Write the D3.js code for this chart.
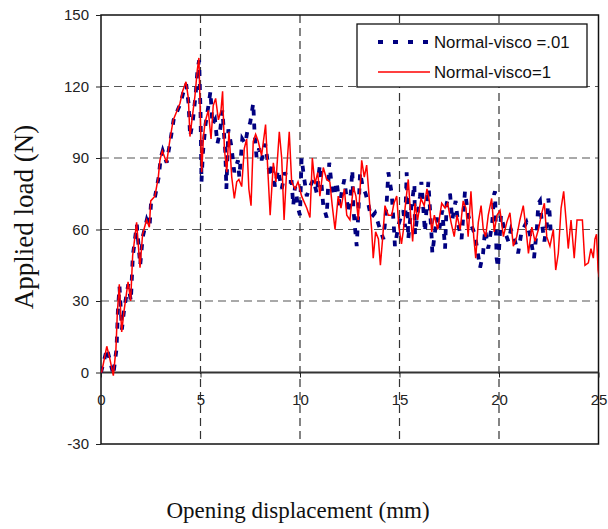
<!DOCTYPE html>
<html>
<head>
<meta charset="utf-8">
<script src="https://cdn.jsdelivr.net/npm/d3@7"></script>
<style>
  body { margin: 0; background: #fff; }
  svg { display: block; }
</style>
</head>
<body>
<script>
// values
var xTicks = [0, 5, 10, 15, 20, 25];
var yTicks = [-30, 0, 30, 60, 90, 120, 150];
var seriesNames = ["Normal-visco =.01", "Normal-visco=1"];

var xBlue = [0, 0.3, 0.45, 0.62, 0.78, 0.85, 0.93, 1.05, 1.17, 1.37, 1.5, 1.6, 1.8, 1.97, 2.1, 2.3, 2.44, 2.52, 2.72, 2.9,
  3.0, 3.1, 3.3, 3.5, 3.65, 3.85, 4.0, 4.12, 4.28, 4.4, 4.48, 4.62, 4.75, 4.85, 4.93, 5.0, 5.05, 5.12, 5.25, 5.4,
  5.5, 5.6, 5.73, 5.85, 5.98, 6.1, 6.25, 6.3, 6.4, 6.55, 6.7, 6.88, 6.95, 7.1, 7.25, 7.35, 7.5, 7.65, 7.72, 7.82,
  7.95, 8.07, 8.25, 8.49, 8.6, 8.74, 8.9, 9.08, 9.25, 9.4, 9.58, 9.66, 9.75, 9.83, 9.9, 10.0, 10.08, 10.2, 10.34, 10.5,
  10.67, 10.85, 10.95, 11.0, 11.17, 11.34, 11.47, 11.56, 11.7, 11.84, 12.0, 12.1, 12.23, 12.43, 12.55, 12.63, 12.68, 12.76, 12.85, 12.95,
  13.02, 13.15, 13.3, 13.45, 13.57, 13.77, 13.95, 14.19, 14.3, 14.36, 14.44, 14.61, 14.74, 14.77, 14.95, 15.1, 15.19, 15.28, 15.36, 15.44,
  15.6, 15.75, 15.78, 15.9, 16.03, 16.1, 16.28, 16.45, 16.55, 16.62, 16.65, 16.87, 17.0, 17.15, 17.29, 17.37, 17.54, 17.65, 17.82, 17.95,
  18.12, 18.29, 18.45, 18.6, 18.79, 18.9, 19.05, 19.2, 19.3, 19.46, 19.66, 19.76, 19.8, 19.88, 19.95, 20.1, 20.3, 20.47, 20.6, 20.75,
  20.96, 21.13, 21.38, 21.55, 21.76, 21.9, 21.98, 22.06, 22.15, 22.28, 22.4, 22.48, 22.55, 22.6];
var yBlue = [0, 10, 5, -1, 10, 26, 36, 18, 27, 37, 30, 49, 62, 45, 57, 64, 61, 72, 74, 82,
  90, 93, 88, 98, 106, 110, 113, 117, 121, 113, 99, 106, 116, 127, 131, 110, 80, 92, 104, 112,
  118, 104, 106, 96, 101, 110, 92, 77, 102, 95, 84, 89, 82, 98, 96, 101, 105, 113, 100, 90,
  94, 89, 96, 82, 88, 78, 85, 77, 84, 80, 80, 70, 78, 74, 69, 66, 90, 82, 74, 78,
  81, 75, 84, 87, 70, 65, 88, 81, 74, 80, 70, 76, 81, 67, 75, 85, 69, 61, 53, 70,
  84, 78, 75, 70, 65, 67, 62, 56, 65, 72, 84, 75, 58, 53, 62, 66, 68, 61, 84, 56,
  70, 79, 58, 66, 74, 80, 59, 80, 66, 56, 50, 65, 60, 68, 52, 71, 75, 64, 72, 62,
  56, 76, 66, 62, 58, 52, 44, 50, 60, 52, 63, 75, 76, 48, 44, 66, 59, 55, 60, 57,
  50, 59, 63, 58, 48, 60, 71, 72, 63, 55, 62, 73, 66, 59];

var xRed = [0.03, 0.29, 0.45, 0.62, 0.75, 0.82, 0.92, 1.04, 1.16, 1.36, 1.49, 1.59, 1.79, 1.96, 2.09, 2.29, 2.43, 2.5, 2.71, 2.88,
  2.96, 3.08, 3.3, 3.47, 3.63, 3.83, 3.97, 4.1, 4.27, 4.39, 4.47, 4.6, 4.72, 4.84, 4.92, 4.97, 5.06, 5.15, 5.23, 5.39,
  5.53, 5.64, 5.76, 5.9, 6.03, 6.11, 6.2, 6.32, 6.43, 6.57, 6.7, 6.82, 6.93, 7.07, 7.2, 7.32, 7.43, 7.54, 7.65, 7.77,
  7.9, 8.07, 8.27, 8.4, 8.5, 8.66, 8.79, 8.96, 9.08, 9.2, 9.33, 9.46, 9.58, 9.75, 9.9, 10.08, 10.34, 10.5, 10.62, 10.75,
  10.89, 11.0, 11.17, 11.34, 11.5, 11.62, 11.76, 11.92, 12.06, 12.23, 12.35, 12.51, 12.68, 12.81, 12.93, 13.1, 13.23, 13.35, 13.47, 13.6,
  13.68, 13.8, 13.94, 14.04, 14.16, 14.27, 14.44, 14.61, 14.72, 14.86, 14.97, 15.1, 15.2, 15.28, 15.44, 15.56, 15.66, 15.78, 15.91, 16.08,
  16.24, 16.38, 16.5, 16.62, 16.75, 16.92, 17.12, 17.29, 17.42, 17.59, 17.75, 17.89, 18.05, 18.2, 18.34, 18.45, 18.59, 18.73, 18.83, 18.96,
  19.1, 19.21, 19.33, 19.46, 19.63, 19.76, 19.9, 20.05, 20.22, 20.39, 20.55, 20.72, 20.89, 21.05, 21.22, 21.36, 21.48, 21.65, 21.81, 21.98,
  22.15, 22.28, 22.4, 22.56, 22.73, 22.85, 22.98, 23.12, 23.25, 23.37, 23.48, 23.62, 23.78, 23.92, 24.07, 24.19, 24.32, 24.49, 24.62, 24.74,
  24.82, 24.9, 24.98, 25.03];
var yRed = [0, 11, 5.5, -1.3, 9.6, 25, 37, 17, 26, 38, 30, 49, 63, 44, 58, 64, 61, 72, 74, 82,
  89, 93, 88, 98, 106, 110, 113, 118, 122, 115, 99, 108, 116, 127, 132, 115, 84, 99, 105, 110,
  98, 112, 115, 106, 110, 118, 94, 84, 101, 82, 73, 80, 81, 78, 94, 98, 77, 70, 97, 100,
  97, 91, 104, 82, 66, 88, 80, 101, 90, 64, 85, 101, 80, 77, 80, 74, 69, 65, 90, 79,
  84, 74, 86, 81, 80, 70, 60, 74, 69, 77, 66, 64, 78, 74, 64, 89, 82, 87, 74, 60,
  48, 59, 56, 45, 57, 70, 66, 66, 71, 74, 61, 54, 60, 69, 81, 66, 55, 71, 64, 73,
  70, 77, 72, 59, 66, 60, 71, 69, 71, 63, 57, 66, 60, 72, 69, 57, 76, 57, 48, 63,
  70, 60, 57, 66, 73, 59, 66, 68, 57, 63, 67, 53, 57, 64, 70, 60, 50, 61, 55, 60,
  67, 71, 57, 53, 60, 43, 50, 69, 76, 64, 52, 64, 48, 64, 64, 64, 45, 46, 52, 48,
  56, 58, 43, 40];

var blue = xBlue.map(function(d, i) { return {x: d, y: yBlue[i]}; });
var red = xRed.map(function(d, i) { return {x: d, y: yRed[i]}; });

var svg = d3.select("body").append("svg")
    .attr("width", 608)
    .attr("height", 529);

var x = d3.scaleLinear().domain([0, 25]).range([101, 598.5]);
var y = d3.scaleLinear().domain([-30, 150]).range([444, 15]);

svg.append("defs").append("clipPath")
    .attr("id", "plotclip")
  .append("rect")
    .attr("x", 101).attr("y", 15)
    .attr("width", 497.5).attr("height", 429);

// grid
svg.append("g").selectAll("line")
    .data(yTicks.filter(function(d) { return d != 0 && d != -30 && d != 150; }))
  .enter().append("line")
    .attr("x1", 101).attr("x2", 598.5)
    .attr("y1", function(d) { return y(d); })
    .attr("y2", function(d) { return y(d); })
    .style("stroke", "#555")
    .style("stroke-width", 1.2)
    .style("stroke-dasharray", "8,5");

svg.append("g").selectAll("line")
    .data(xTicks.filter(function(d) { return d != 0 && d != 25; }))
  .enter().append("line")
    .attr("y1", 15).attr("y2", 444)
    .attr("x1", function(d) { return x(d); })
    .attr("x2", function(d) { return x(d); })
    .style("stroke", "#333")
    .style("stroke-width", 1.2)
    .style("stroke-dasharray", "8,5");

// frame
svg.append("rect")
    .attr("x", 101).attr("y", 15)
    .attr("width", 497.5).attr("height", 429)
    .style("fill", "none")
    .style("stroke", "#111")
    .style("stroke-width", 1.5);

// zero line with x ticks
svg.append("line")
    .attr("x1", 101).attr("x2", 598.5)
    .attr("y1", y(0)).attr("y2", y(0))
    .style("stroke", "#333")
    .style("stroke-width", 2);

var xAxis = d3.axisBottom(x).tickValues(xTicks).tickSize(5).tickPadding(17)
    .tickFormat(function(d) { return String(d); });
svg.append("g")
    .attr("transform", "translate(0," + y(0) + ")")
    .call(xAxis)
    .call(function(g) { g.select(".domain").remove(); })
    .call(function(g) {
      g.selectAll("text").style("font-family", "Liberation Sans, Arial, sans-serif")
        .style("font-size", "15px").style("fill", "#222");
      g.selectAll("line").style("stroke", "#222");
    });

var yAxis = d3.axisLeft(y).tickValues(yTicks).tickSize(5).tickPadding(7)
    .tickFormat(function(d) { return String(d); });
svg.append("g")
    .attr("transform", "translate(101,0)")
    .call(yAxis)
    .call(function(g) { g.select(".domain").remove(); })
    .call(function(g) {
      g.selectAll("text").style("font-family", "Liberation Sans, Arial, sans-serif")
        .style("font-size", "15px").style("fill", "#222");
      g.selectAll("line").style("stroke", "#222");
    });

// series
var line = d3.line()
    .x(function(d) { return x(d.x); })
    .y(function(d) { return y(d.y); });

var plot = svg.append("g").attr("clip-path", "url(#plotclip)");

plot.append("path")
    .datum(blue)
    .attr("d", line)
    .style("fill", "none")
    .style("stroke", "#000080")
    .style("stroke-width", 3.8)
    .style("stroke-dasharray", "6,8");

plot.append("path")
    .datum(red)
    .attr("d", line)
    .style("fill", "none")
    .style("stroke", "#ff0000")
    .style("stroke-width", 1.5);

// legend
var legend = svg.append("g");
legend.append("rect")
    .attr("x", 357).attr("y", 24)
    .attr("width", 230).attr("height", 63)
    .style("fill", "#fff")
    .style("stroke", "#111")
    .style("stroke-width", 1.3);

legend.append("line")
    .attr("x1", 378).attr("x2", 430)
    .attr("y1", 42).attr("y2", 42)
    .style("stroke", "#000080")
    .style("stroke-width", 4)
    .style("stroke-dasharray", "5,10");
legend.append("line")
    .attr("x1", 378).attr("x2", 430)
    .attr("y1", 72).attr("y2", 72)
    .style("stroke", "#ff0000")
    .style("stroke-width", 1.5);

legend.selectAll("text")
    .data(seriesNames)
  .enter().append("text")
    .attr("x", 434)
    .attr("y", function(d, i) { return 42 + i * 30; })
    .attr("dy", "0.35em")
    .style("font-family", "Liberation Sans, Arial, sans-serif")
    .style("font-size", "16.8px")
    .style("fill", "#111")
    .text(function(d) { return d; });

// axis titles
svg.append("text")
    .attr("x", 298)
    .attr("y", 518)
    .style("text-anchor", "middle")
    .style("font-family", "Liberation Serif, Times New Roman, serif")
    .style("font-size", "23px")
    .style("fill", "#111")
    .text("Opening displacement (mm)");

svg.append("text")
    .attr("transform", "rotate(-90)")
    .attr("x", -217)
    .attr("y", 33)
    .style("text-anchor", "middle")
    .style("font-family", "Liberation Serif, Times New Roman, serif")
    .style("font-size", "27px")
    .style("fill", "#111")
    .text("Applied load (N)");
</script>
</body>
</html>
